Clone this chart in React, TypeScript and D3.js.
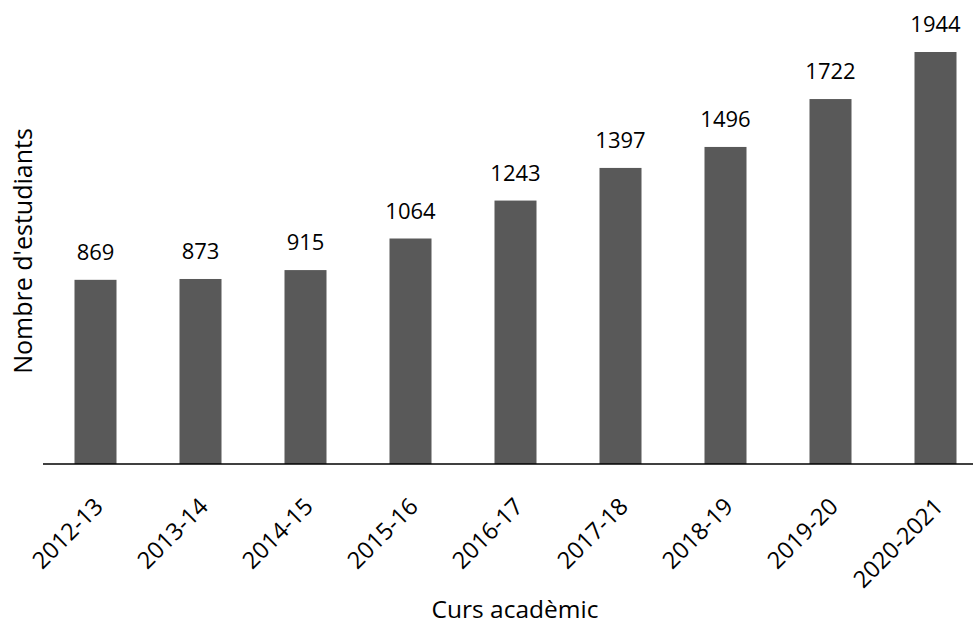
import React from 'react'
import * as d3 from 'd3'

// Academic years and number of students
const courses = ['2012-13', '2013-14', '2014-15', '2015-16', '2016-17', '2017-18', '2018-19', '2019-20', '2020-2021']
const students = [869, 873, 915, 1064, 1243, 1397, 1496, 1722, 1944]

const width = 974
const height = 625
const font = '"Open Sans", "Noto Sans", sans-serif'

const App: React.FC = () => {
  const baseline = 464

  const x = d3
    .scaleBand()
    .domain(courses)
    .range([43, 988])
    .paddingInner(0.6)
    .paddingOuter(0.3)

  const y = d3
    .scaleLinear()
    .domain([0, d3.max(students) || 0])
    .range([baseline, 52])

  return (
    <svg
      width={width}
      height={height}
      style={{ position: 'absolute', left: 0, top: 0, background: '#fff' }}
      fontFamily={font}
    >
      {/* bars */}
      <g fill="#595959">
        {students.map((d, i) => (
          <rect key={courses[i]} x={x(courses[i])!} y={y(d)} width={x.bandwidth()} height={y(0) - y(d)} />
        ))}
      </g>

      {/* value labels */}
      <g fontSize={22} textAnchor="middle" fill="#000">
        {students.map((d, i) => (
          <text key={courses[i]} x={x(courses[i])! + x.bandwidth() / 2} y={y(d) - 20}>
            {d}
          </text>
        ))}
      </g>

      {/* x axis line */}
      <line x1={43} x2={973} y1={baseline} y2={baseline} stroke="#000" strokeWidth={1.5} />

      {/* rotated tick labels */}
      <g fontSize={23.5} textAnchor="end" fill="#000">
        {courses.map((c) => {
          const cx = x(c)! + x.bandwidth() / 2 + 9
          return (
            <text key={c} transform={`translate(${cx},${baseline + 44}) rotate(-45)`}>
              {c}
            </text>
          )
        })}
      </g>

      {/* axis titles */}
      <text x={515} y={618} fontSize={24.5} textAnchor="middle" fill="#000">
        Curs acadèmic
      </text>
      <text transform="translate(32,251) rotate(-90)" fontSize={25} textAnchor="middle" fill="#000">
        Nombre d'estudiants
      </text>
    </svg>
  )
}

export default App
